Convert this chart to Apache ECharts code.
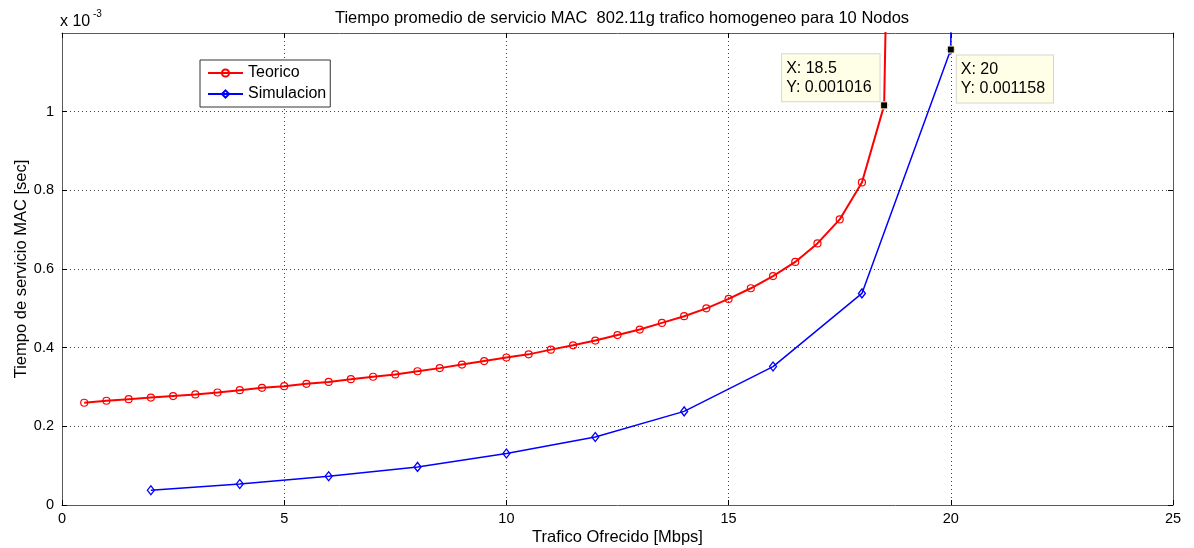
<!DOCTYPE html>
<html><head><meta charset="utf-8">
<script src="https://cdn.jsdelivr.net/npm/echarts@6/dist/echarts.min.js"></script>
<style>html,body{margin:0;padding:0;background:#fff;overflow:hidden}#c{width:1194px;height:548px}</style>
</head><body><div id="c"></div>
<script>
const teoricoX = [0.5,1,1.5,2,2.5,3,3.5,4,4.5,5,5.5,6,6.5,7,7.5,8,8.5,9,9.5,10,10.5,11,11.5,12,12.5,13,13.5,14,14.5,15,15.5,16,16.5,17,17.5,18,18.5,19];
const teoricoY = [0.000260,0.000265,0.000269,0.000273,0.000277,0.000281,0.000286,0.000292,0.000298,0.000302,0.000308,0.000313,0.000320,0.000326,0.000332,0.000340,0.000348,0.000357,0.000366,0.000375,0.000383,0.000395,0.000406,0.000418,0.000432,0.000446,0.000463,0.000480,0.000500,0.000524,0.000551,0.000582,0.000618,0.000665,0.000726,0.000820,0.001016,0.0041];
const simX = [2,4,6,8,10,12,14,16,18,20,22];
const simY = [0.0000375,0.0000536,0.0000732,0.0000969,0.000131,0.000173,0.000238,0.000352,0.000538,0.001158,0.05];
const xTicks = [0,5,10,15,20,25];
const yTicks = [0,0.0002,0.0004,0.0006,0.0008,0.001];
const tips = [{x:18.5, y:0.001016}, {x:20, y:0.001158}];

const FONT = "'Liberation Sans', Arial, Helvetica, sans-serif";
const chart = echarts.init(document.getElementById('c'), null, {renderer:'canvas'});
const pair = (xs, ys) => xs.map((x,i)=>[x, ys[i]]);
const tipLabel = (t, pos) => ({
  coord:[t.x, t.y], value:t.y,
  symbol:'rect', symbolSize:7,
  itemStyle:{color:'#000', borderColor:'#ffffd8', borderWidth:1},
  label:{show:true, formatter:'X: '+t.x+'\nY: '+t.y, position:pos, align:'left', verticalAlign:'top',
    color:'#000', fontFamily:FONT, fontSize:16, lineHeight:19,
    backgroundColor:'#ffffe8', borderColor:'#d6d6d0', borderWidth:1, padding:[5,8,4,4]}
});
const axisCommon = {
  type:'value', min:0,
  axisLine:{show:true, onZero:false, lineStyle:{color:'#5a5a5a', width:1}},
  axisTick:{show:true, inside:true, length:5, lineStyle:{color:'#000'}},
  axisLabel:{color:'#000', fontFamily:FONT, fontSize:14.5}
};
const option = {
  animation:false,
  backgroundColor:'#fff',
  title:{text:'Tiempo promedio de servicio MAC  802.11g trafico homogeneo para 10 Nodos', left:617, textAlign:'center', top:5,
    textStyle:{fontFamily:FONT, fontSize:16.5, fontWeight:'normal', color:'#000'}},
  grid:{left:62, right:21, top:33, bottom:43, containLabel:false, outerBoundsMode:'none'},
  legend:{orient:'vertical', left:200, top:60, itemWidth:35, itemHeight:9, itemGap:5,
    padding:[5,4,5,7], borderColor:'#333', borderWidth:1, backgroundColor:'#fff',
    textStyle:{fontFamily:FONT, fontSize:16, color:'#000'},
    data:['Teorico','Simulacion']},
  graphic:[{type:'text', left:60, top:14, style:{text:'x 10', fontFamily:FONT, fontSize:16, fill:'#000'}},
           {type:'text', left:93, top:9, style:{text:'-3', fontFamily:FONT, fontSize:10, fill:'#000'}}],
  xAxis:[
    Object.assign({}, axisCommon, {position:'bottom', max:25, interval:5,
      name:'Trafico Ofrecido [Mbps]', nameLocation:'middle', nameGap:24, nameMoveOverlap:false,
      nameTextStyle:{fontFamily:FONT, fontSize:16.5, color:'#000'},
      axisLabel:Object.assign({}, axisCommon.axisLabel, {margin:6, formatter:v=>xTicks.includes(v)?String(v):''}),
      splitLine:{show:true, lineStyle:{type:[1,3], color:'#444', width:1}}}),
    Object.assign({}, axisCommon, {position:'top', max:25, interval:5, axisLabel:{show:false}, splitLine:{show:false}})
  ],
  yAxis:[
    Object.assign({}, axisCommon, {position:'left', max:0.0012, interval:0.0002,
      name:'Tiempo de servicio MAC [sec]', nameLocation:'middle', nameGap:32, nameMoveOverlap:false,
      nameTextStyle:{fontFamily:FONT, fontSize:16.5, color:'#000'},
      axisLabel:Object.assign({}, axisCommon.axisLabel, {margin:8, formatter:v=>{
        const t = yTicks.find(k=>Math.abs(k-v)<1e-9); if (t===undefined) return '';
        return String(Math.round(t*1e4)/10);}}),
      axisTick:{show:true, inside:true, length:5, lineStyle:{color:'#000'}, customValues:yTicks},
      splitLine:{show:true, lineStyle:{type:[1,3], color:'#444', width:1}}}),
    Object.assign({}, axisCommon, {position:'right', max:0.0012, interval:0.0002, axisLabel:{show:false},
      axisTick:{show:true, inside:true, length:5, lineStyle:{color:'#000'}, customValues:yTicks},
      splitLine:{show:false}})
  ],
  series:[
    {name:'Teorico', type:'line', xAxisIndex:0, yAxisIndex:0, data:pair(teoricoX, teoricoY),
      symbol:'circle', symbolSize:7, clip:true,
      lineStyle:{color:'#ff0000', width:2}, itemStyle:{color:'rgba(255,255,255,0)', borderColor:'#ff0000', borderWidth:1.2},
      markPoint:{data:[tipLabel(tips[0], [-98,-47])], silent:true}},
    {name:'Simulacion', type:'line', xAxisIndex:0, yAxisIndex:0, data:pair(simX, simY),
      symbol:'diamond', symbolSize:[7,9], clip:true,
      lineStyle:{color:'#0000ff', width:1.5}, itemStyle:{color:'rgba(255,255,255,0)', borderColor:'#0000ff', borderWidth:1.3},
      markPoint:{data:[tipLabel(tips[1], [10,10])], silent:true}}
  ]
};
chart.setOption(option);
</script></body></html>
